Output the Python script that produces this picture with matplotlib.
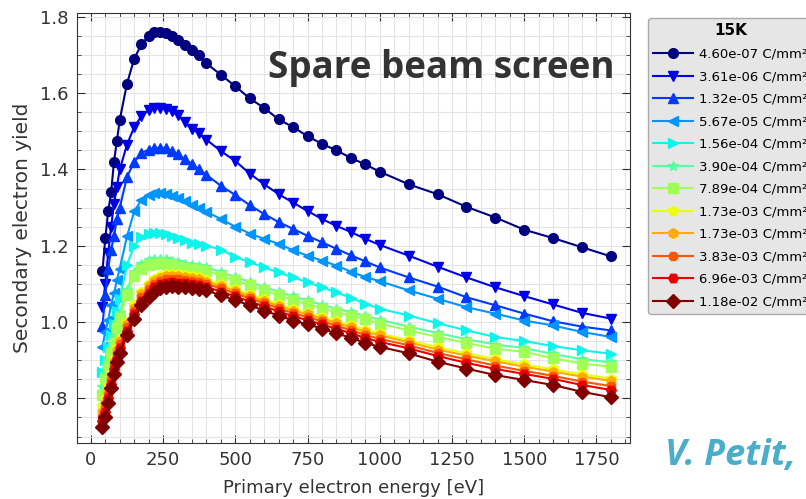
import matplotlib
matplotlib.use("Agg")
import matplotlib.pyplot as plt
import numpy as np
from matplotlib.ticker import MultipleLocator

# primary energies [eV]
energy = [40, 50, 60, 70, 80, 90, 100, 125, 150, 175, 200, 220, 240, 260, 280, 300, 325, 350, 375, 400,
          450, 500, 550, 600, 650, 700, 750, 800, 850, 900, 950, 1000,
          1100, 1200, 1300, 1400, 1500, 1600, 1700, 1800]

dose_labels = ["4.60e-07 C/mm²", "3.61e-06 C/mm²", "1.32e-05 C/mm²", "5.67e-05 C/mm²",
               "1.56e-04 C/mm²", "3.90e-04 C/mm²", "7.89e-04 C/mm²", "1.73e-03 C/mm²",
               "1.73e-03 C/mm²", "3.83e-03 C/mm²", "6.96e-03 C/mm²", "1.18e-02 C/mm²"]

sey_1 = [1.133, 1.22, 1.29, 1.34, 1.42, 1.475, 1.53, 1.625, 1.69, 1.728, 1.750, 1.759, 1.760, 1.757, 1.749, 1.739,
         1.726, 1.712, 1.700, 1.678, 1.648, 1.618, 1.586, 1.561, 1.531, 1.511, 1.487, 1.467, 1.450, 1.430, 1.413,
         1.394, 1.361, 1.335, 1.302, 1.274, 1.242, 1.220, 1.196, 1.172]
sey_2 = [1.04, 1.10, 1.18, 1.25, 1.31, 1.355, 1.40, 1.465, 1.511, 1.540, 1.555, 1.560, 1.561, 1.559, 1.552, 1.542,
         1.525, 1.505, 1.495, 1.478, 1.448, 1.422, 1.389, 1.361, 1.335, 1.313, 1.291, 1.270, 1.252, 1.236, 1.218,
         1.202, 1.174, 1.145, 1.117, 1.091, 1.068, 1.046, 1.024, 1.009]
sey_3 = [0.99, 1.07, 1.14, 1.19, 1.225, 1.27, 1.30, 1.38, 1.42, 1.443, 1.452, 1.456, 1.457, 1.455, 1.449, 1.440,
         1.428, 1.414, 1.400, 1.386, 1.357, 1.333, 1.306, 1.283, 1.262, 1.244, 1.226, 1.209, 1.192, 1.175, 1.159,
         1.143, 1.117, 1.093, 1.065, 1.044, 1.022, 1.002, 0.988, 0.978]
sey_4 = [0.935, 0.975, 1.005, 1.045, 1.075, 1.11, 1.14, 1.225, 1.29, 1.32, 1.333, 1.337, 1.338, 1.335, 1.331, 1.325,
         1.316, 1.307, 1.298, 1.289, 1.270, 1.250, 1.232, 1.218, 1.205, 1.188, 1.174, 1.161, 1.148, 1.132, 1.118,
         1.107, 1.083, 1.061, 1.039, 1.022, 1.004, 0.991, 0.974, 0.961]
sey_5 = [0.87, 0.90, 0.935, 0.965, 0.995, 1.03, 1.06, 1.15, 1.20, 1.222, 1.230, 1.233, 1.233, 1.230, 1.226, 1.220,
         1.214, 1.208, 1.204, 1.200, 1.190, 1.170, 1.157, 1.143, 1.130, 1.117, 1.104, 1.091, 1.078, 1.063, 1.048,
         1.035, 1.017, 0.997, 0.978, 0.961, 0.950, 0.937, 0.926, 0.917]
sey_6 = [0.83, 0.865, 0.90, 0.93, 0.96, 1.0, 1.025, 1.085, 1.132, 1.152, 1.162, 1.165, 1.166, 1.164, 1.161, 1.157,
         1.153, 1.150, 1.147, 1.144, 1.131, 1.118, 1.105, 1.092, 1.079, 1.067, 1.057, 1.045, 1.035, 1.026, 1.016,
         1.006, 0.988, 0.971, 0.955, 0.941, 0.932, 0.916, 0.903, 0.894]
sey_7 = [0.81, 0.85, 0.885, 0.915, 0.945, 0.985, 1.01, 1.07, 1.12, 1.14, 1.150, 1.153, 1.154, 1.152, 1.149, 1.145,
         1.142, 1.139, 1.137, 1.135, 1.122, 1.109, 1.096, 1.083, 1.070, 1.057, 1.048, 1.035, 1.026, 1.017, 1.007,
         0.996, 0.978, 0.961, 0.945, 0.930, 0.922, 0.905, 0.891, 0.883]
sey_8 = [0.78, 0.80, 0.832, 0.866, 0.902, 0.932, 0.956, 1.0, 1.044, 1.079, 1.101, 1.114, 1.122, 1.126, 1.127, 1.126,
         1.124, 1.121, 1.117, 1.111, 1.099, 1.086, 1.073, 1.060, 1.047, 1.035, 1.025, 1.014, 1.002, 0.992, 0.980,
         0.970, 0.952, 0.934, 0.918, 0.903, 0.889, 0.876, 0.863, 0.852]
sey_9 = [0.765, 0.788, 0.822, 0.858, 0.895, 0.926, 0.95, 0.994, 1.038, 1.073, 1.095, 1.108, 1.116, 1.120, 1.121, 1.120,
         1.119, 1.116, 1.112, 1.106, 1.094, 1.081, 1.068, 1.055, 1.042, 1.030, 1.020, 1.009, 0.997, 0.987, 0.974,
         0.965, 0.947, 0.928, 0.912, 0.897, 0.883, 0.870, 0.857, 0.846]
sey_10 = [0.75, 0.775, 0.81, 0.848, 0.886, 0.917, 0.942, 0.986, 1.03, 1.065, 1.087, 1.100, 1.108, 1.112, 1.113, 1.112,
          1.111, 1.108, 1.105, 1.100, 1.088, 1.075, 1.062, 1.049, 1.036, 1.023, 1.013, 1.002, 0.990, 0.979, 0.966,
          0.956, 0.939, 0.919, 0.902, 0.886, 0.872, 0.859, 0.844, 0.832]
sey_11 = [0.74, 0.765, 0.80, 0.838, 0.876, 0.907, 0.932, 0.976, 1.02, 1.055, 1.077, 1.091, 1.099, 1.103, 1.104, 1.103,
          1.102, 1.099, 1.096, 1.092, 1.080, 1.067, 1.054, 1.041, 1.028, 1.015, 1.005, 0.994, 0.982, 0.971, 0.958,
          0.948, 0.931, 0.911, 0.893, 0.877, 0.864, 0.851, 0.835, 0.822]
sey_12 = [0.726, 0.752, 0.789, 0.826, 0.865, 0.896, 0.92, 0.965, 1.009, 1.044, 1.065, 1.080, 1.088, 1.093, 1.094, 1.093,
          1.092, 1.090, 1.086, 1.083, 1.070, 1.057, 1.044, 1.030, 1.017, 1.004, 0.994, 0.983, 0.970, 0.959, 0.945,
          0.935, 0.918, 0.896, 0.878, 0.861, 0.848, 0.835, 0.817, 0.803]

series = [sey_1, sey_2, sey_3, sey_4, sey_5, sey_6, sey_7, sey_8, sey_9, sey_10, sey_11, sey_12]
markers = ["o", "v", "^", "<", ">", "*", "s", "p", "h", "8", "H", "D"]
colors = plt.cm.jet(np.linspace(0, 1, len(series)))

fig = plt.figure(figsize=(8.06, 4.99), dpi=100)
ax = fig.add_axes([77 / 806, 56 / 499, 553 / 806, 430 / 499])

for y, m, c, lab in zip(series, markers, colors, dose_labels):
    ax.plot(energy, y, marker=m, color=c, markersize=7, linewidth=1.5, label=lab)

ax.set_xlim(-48, 1866)
ax.set_ylim(0.683, 1.81)
ax.xaxis.set_major_locator(MultipleLocator(250))
ax.xaxis.set_minor_locator(MultipleLocator(50))
ax.yaxis.set_major_locator(MultipleLocator(0.2))
ax.yaxis.set_minor_locator(MultipleLocator(0.05))
ax.tick_params(which="both", direction="in", top=True, right=True, colors="#333333")
ax.tick_params(which="major", length=6, labelsize=13, pad=6)
ax.tick_params(which="minor", length=3)
ax.grid(which="both", color="#e4e4e4", linewidth=0.8)
ax.set_axisbelow(True)
for s in ax.spines.values():
    s.set_color("#333333")

ax.set_xlabel("Primary electron energy [eV]", fontsize=13, color="#333333", labelpad=7)
ax.set_ylabel("Secondary electron yield", fontsize=14.5, color="#333333", labelpad=6)

# legend runs off the right edge, as in the original slide
leg = ax.legend(title="15K", loc="upper left", bbox_to_anchor=(648 / 806, 1 - 18 / 499),
                bbox_transform=fig.transFigure, borderaxespad=0, fontsize=9.5,
                handlelength=3.0, handletextpad=0.5, labelspacing=0.72,
                facecolor="#e6e6e6", edgecolor="#aaaaaa", framealpha=1,
                title_fontproperties={"weight": "bold", "size": 11})
leg.get_frame().set_linewidth(1.0)

fig.text(615 / 806, 1 - 68 / 499, "Spare beam screen", ha="right", va="center",
         fontsize=26.5, fontweight="bold", family="Open Sans", color="#333333")
fig.text(665 / 806, 1 - 456 / 499, "V. Petit,", ha="left", va="center",
         fontsize=26, fontweight="bold", style="italic", family="Open Sans", color="#4aaecb")

fig.savefig("out.png", dpi=100)
